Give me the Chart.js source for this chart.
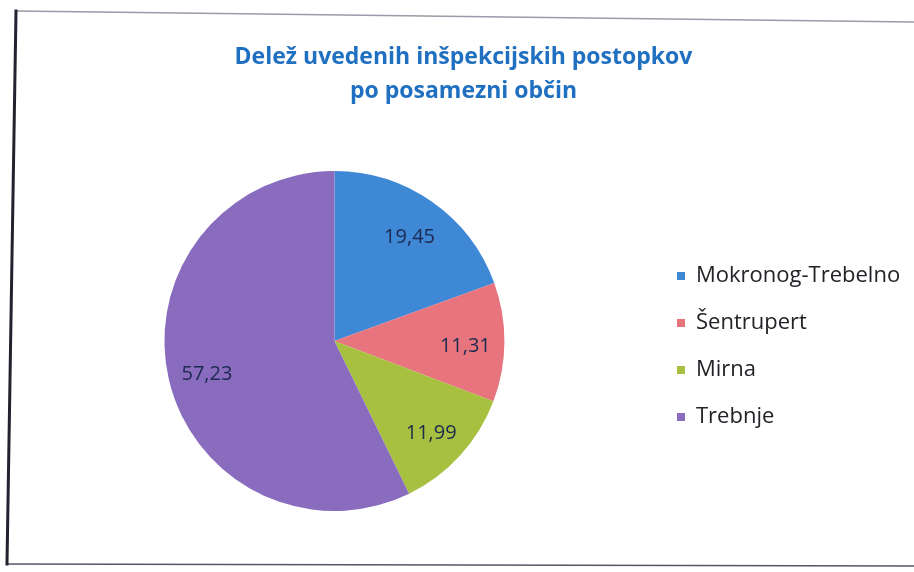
<!DOCTYPE html>
<html>
<head>
<meta charset="utf-8">
<script src="https://cdn.jsdelivr.net/npm/chart.js@4/dist/chart.umd.min.js"></script>
<style>
    html, body { margin: 0; padding: 0; background: #ffffff; }
    #wrap { position: relative; width: 914px; height: 572px; }
</style>
</head>
<body>
<div id="wrap"><canvas id="chart-pie"></canvas></div>
<script>
// podatki
const obcine = ['Mokronog-Trebelno', 'Šentrupert', 'Mirna', 'Trebnje'];
const delezi = [19.45, 11.31, 11.99, 57.23];
const barve = ['#3f88d6', '#e8747e', '#a8c040', '#8a6cbf'];
const naslov = ['Delež uvedenih inšpekcijskih postopkov', 'po posamezni občin'];

// okvir (poševen, kot pri skeniranem listu)
const okvirPlugin = {
    id: 'okvir',
    beforeDraw(chart) {
        const ctx = chart.ctx;
        ctx.save();
        ctx.lineCap = 'square';
        ctx.strokeStyle = '#9a9aa8';
        ctx.lineWidth = 1.5;
        ctx.beginPath();
        ctx.moveTo(16, 11);
        ctx.lineTo(914, 22);
        ctx.stroke();
        ctx.strokeStyle = '#555566';
        ctx.beginPath();
        ctx.moveTo(7, 564);
        ctx.lineTo(914, 566);
        ctx.stroke();
        ctx.strokeStyle = '#222230';
        ctx.lineWidth = 3;
        ctx.beginPath();
        ctx.moveTo(16, 11);
        ctx.lineTo(7, 564);
        ctx.stroke();
        ctx.restore();
    }
};

// legenda: premik na mesto kot v originalu (prvi kvadratek pri x=677, sredina prve vrstice y=276)
const legendaPlugin = {
    id: 'legendaPremik',
    afterUpdate(chart) {
        const lg = chart.legend;
        if (!lg || !lg.legendHitBoxes || !lg.legendHitBoxes.length) return;
        const hb = lg.legendHitBoxes[0];
        const dx = 677 - hb.left;
        const dy = 276 - (hb.top + hb.height / 2);
        lg.left += dx; lg.right += dx;
        lg.top += dy; lg.bottom += dy;
        lg.legendHitBoxes.forEach(h => { h.left += dx; h.top += dy; });
    }
};

// vrednosti na izsekih
const oznakePlugin = {
    id: 'oznake',
    afterDatasetsDraw(chart) {
        const ctx = chart.ctx;
        const meta = chart.getDatasetMeta(0);
        ctx.save();
        ctx.font = '20px "Open Sans"';
        ctx.fillStyle = '#1c2a50';
        ctx.textAlign = 'center';
        ctx.textBaseline = 'middle';
        meta.data.forEach((arc, i) => {
            const p = arc.getProps(['x', 'y', 'startAngle', 'endAngle', 'outerRadius'], true);
            const a = (p.startAngle + p.endAngle) / 2;
            const r = p.outerRadius * 0.77;
            const txt = delezi[i].toFixed(2).replace('.', ',');
            ctx.fillText(txt, p.x + Math.cos(a) * r, p.y + Math.sin(a) * r + 4);
        });
        ctx.restore();
    }
};

const ctx = document.getElementById('chart-pie').getContext('2d');
const chart_pie = new Chart(ctx, {
    type: 'pie',
    data: {
        labels: obcine,
        datasets: [{
            data: delezi,
            backgroundColor: barve,
            borderWidth: 0
        }]
    },
    options: {
        responsive: true,
        maintainAspectRatio: false,
        animation: false,
        layout: {
            padding: { left: 23, right: 10, top: 0, bottom: 61 }
        },
        plugins: {
            title: {
                display: true,
                text: naslov,
                color: '#2070c2',
                font: { family: 'Open Sans', size: 23, weight: 'bold', lineHeight: 1.5 },
                padding: { top: 40, bottom: 62 }
            },
            legend: {
                position: 'right',
                labels: {
                    boxWidth: 8,
                    boxHeight: 8,
                    padding: 25,
                    color: '#222228',
                    font: { family: 'Open Sans', size: 22 }
                }
            },
            tooltip: { enabled: false }
        }
    },
    plugins: [okvirPlugin, legendaPlugin, oznakePlugin]
});
</script>
</body>
</html>
